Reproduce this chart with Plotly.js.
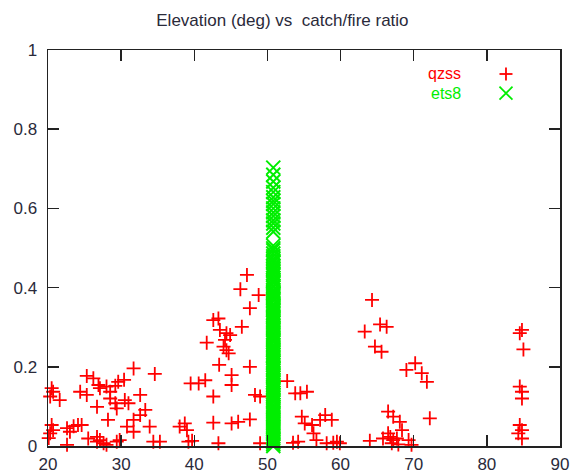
<!DOCTYPE html>
<html>
<head>
<meta charset="utf-8">
<script src="https://cdn.plot.ly/plotly-3.0.1.min.js"></script>
<style>html,body{margin:0;padding:0;background:#fff;}#chart{width:574px;height:474px;}</style>
</head>
<body>
<div id="chart"></div>
<script>
// qzss: elevation (deg) and catch/fire ratio
const qzssElev = [
  20.7,20.3,21.6,24.4,25.3,25.3,26.2,26.9,27.1,28.0,28.5,29.6,29.2,31.7,34.6,
  26.7,28.5,29.2,29.4,30.5,31.0,32.6,33.3,32.6,31.7,30.8,31.7,28.2,20.5,20.7,
  20.1,20.3,22.6,23.0,23.5,24.1,24.6,22.6,25.5,26.7,26.7,27.1,27.6,28.0,29.4,
  29.8,33.9,34.4,35.3,38.0,38.7,39.0,39.2,39.5,40.6,41.5,20.5,30.4,
  47.2,46.3,48.8,47.6,46.5,42.6,43.3,43.5,44.4,44.9,44.2,41.7,44.0,44.4,44.7,
  43.4,47.6,45.1,45.1,42.6,48.3,49.0,42.6,45.1,46.0,47.6,43.3,49.0,39.7,
  52.7,53.8,54.5,55.4,54.7,55.1,56.1,57.2,57.9,58.8,56.3,54.2,53.5,56.7,58.1,
  59.0,59.5,59.9,
  64.3,65.4,66.3,63.3,64.7,65.6,70.2,69.0,71.1,71.8,72.2,66.5,67.2,68.1,68.4,
  66.5,66.8,65.8,67.2,67.7,67.0,67.9,69.3,64.0,69.7,
  84.8,84.5,85.0,84.5,84.8,84.8,84.5,84.8,84.3,84.8
];
const qzssRatio = [
  0.137,0.125,0.116,0.137,0.129,0.177,0.171,0.154,0.146,0.150,0.137,0.162,0.152,0.196,0.182,
  0.099,0.120,0.108,0.095,0.116,0.108,0.129,0.091,0.078,0.066,0.049,0.036,0.066,0.053,0.040,
  0.020,0.032,0.045,0.036,0.050,0.053,0.053,0.003,0.019,0.023,0.011,0.015,0.007,0.003,0.011,
  0.015,0.049,0.011,0.011,0.049,0.057,0.040,0.011,0.158,0.158,0.166,0.146,0.167,
  0.432,0.396,0.381,0.348,0.301,0.318,0.322,0.293,0.285,0.280,0.268,0.261,0.251,0.242,0.234,
  0.205,0.200,0.179,0.154,0.125,0.129,0.125,0.059,0.057,0.061,0.067,0.007,0.007,0.013,
  0.164,0.133,0.133,0.137,0.074,0.057,0.053,0.066,0.078,0.066,0.032,0.011,0.008,0.015,0.007,
  0.008,0.011,0.007,
  0.369,0.307,0.301,0.289,0.251,0.238,0.209,0.192,0.184,0.162,0.070,0.087,0.074,0.061,0.040,
  0.032,0.023,0.019,0.015,0.019,0.007,0.004,0.015,0.013,0.003,
  0.293,0.285,0.244,0.150,0.137,0.120,0.053,0.040,0.032,0.019
];
// ets8: all points at one elevation
const ets8Ratio = [
  0.703,0.685,0.668,0.652,0.641,0.628,0.619,0.611,0.600,0.590,0.581,0.570,0.562,0.551,0.541,
  0.506,0.499,0.494,0.486,0.479,0.472,0.466,0.463,0.456,0.451,0.446,0.442,0.436,0.431,0.425,
  0.419,0.416,0.412,0.405,0.401,0.394,0.389,0.385,0.381,0.376,0.372,0.366,0.359,0.355,
  0.351,0.346,0.342,0.336,0.330,0.325,0.321,0.316,0.311,0.305,0.300,0.296,0.292,0.286,
  0.281,0.275,0.270,0.266,0.262,0.255,0.249,0.245,0.241,0.236,0.230,0.226,0.221,0.215,
  0.210,0.204,0.199,0.195,0.191,0.185,0.180,0.176,0.172,0.166,0.161,0.155,0.150,0.146,
  0.141,0.135,0.130,0.126,0.122,0.116,0.111,0.104,0.099,0.095,0.090,0.085,0.081,0.075,
  0.070,0.066,0.061,0.056,0.050,0.046,0.041,0.035,0.030,0.025,0.020,0.015,0.010,0.005,0.000
];
const ets8Elev = ets8Ratio.map(() => 50.8);
const seriesNames = ["qzss", "ets8"];
const xTicks = [20,30,40,50,60,70,80,90];
const yTicks = [0,0.2,0.4,0.6,0.8,1];

const RED = "#ff0000", GREEN = "#00ee00";
const FONT = "Liberation Sans, Arial, sans-serif";
const TXT = "#2a2a3a";

const traces = [
  {x: qzssElev, y: qzssRatio, mode: "markers", type: "scatter", name: seriesNames[0], cliponaxis: false,
   marker: {symbol: "cross-thin-open", size: 10, color: RED, line: {color: RED, width: 1.8}}},
  {x: ets8Elev, y: ets8Ratio, mode: "markers", type: "scatter", name: seriesNames[1], cliponaxis: false,
   marker: {symbol: "x-thin-open", size: 14, color: GREEN, line: {color: GREEN, width: 2}}}
];

const axisCommon = {
  showgrid: false, zeroline: false, showline: true, linecolor: "#222", linewidth: 1.5,
  mirror: "allticks", ticks: "inside", ticklen: 11, tickwidth: 1.5, tickcolor: "#222",
  tickfont: {family: FONT, size: 17, color: TXT}
};

const layout = {
  width: 574, height: 474,
  margin: {l: 48, r: 14, t: 50, b: 28, pad: 0},
  paper_bgcolor: "#fff", plot_bgcolor: "#fff",
  showlegend: false,
  title: {text: "Elevation (deg) vs  catch/fire ratio", font: {family: FONT, size: 17, color: TXT},
          xref: "container", x: 0.492, xanchor: "center", yref: "container", y: 0.958, yanchor: "middle"},
  xaxis: Object.assign({}, axisCommon, {range: [20, 90], tickvals: xTicks, ticktext: xTicks.map(String), ticklabelstandoff: 2}),
  yaxis: Object.assign({}, axisCommon, {range: [0, 1], tickvals: yTicks, ticktext: yTicks.map(String), ticklabelstandoff: 6}),
  annotations: [
    {xref: "paper", yref: "paper", x: 0.8105, y: 0.9394, xanchor: "right", yanchor: "middle", showarrow: false,
     text: seriesNames[0], font: {family: FONT, size: 16, color: RED}},
    {xref: "paper", yref: "paper", x: 0.8105, y: 0.891, xanchor: "right", yanchor: "middle", showarrow: false,
     text: seriesNames[1], font: {family: FONT, size: 16, color: GREEN}}
  ],
  shapes: [
    {type: "line", xref: "paper", yref: "paper", xsizemode: "pixel", ysizemode: "pixel", xanchor: 0.8945, yanchor: 0.9394,
     x0: -6.5, x1: 6.5, y0: 0, y1: 0, line: {color: RED, width: 1.8}},
    {type: "line", xref: "paper", yref: "paper", xsizemode: "pixel", ysizemode: "pixel", xanchor: 0.8945, yanchor: 0.9394,
     x0: 0, x1: 0, y0: -6.5, y1: 6.5, line: {color: RED, width: 1.8}},
    {type: "line", xref: "paper", yref: "paper", xsizemode: "pixel", ysizemode: "pixel", xanchor: 0.8945, yanchor: 0.891,
     x0: -6.5, x1: 6.5, y0: -6.5, y1: 6.5, line: {color: GREEN, width: 1.8}},
    {type: "line", xref: "paper", yref: "paper", xsizemode: "pixel", ysizemode: "pixel", xanchor: 0.8945, yanchor: 0.891,
     x0: -6.5, x1: 6.5, y0: 6.5, y1: -6.5, line: {color: GREEN, width: 1.8}}
  ]
};

Plotly.newPlot("chart", traces, layout, {staticPlot: true, displayModeBar: false});
</script>
</body>
</html>
